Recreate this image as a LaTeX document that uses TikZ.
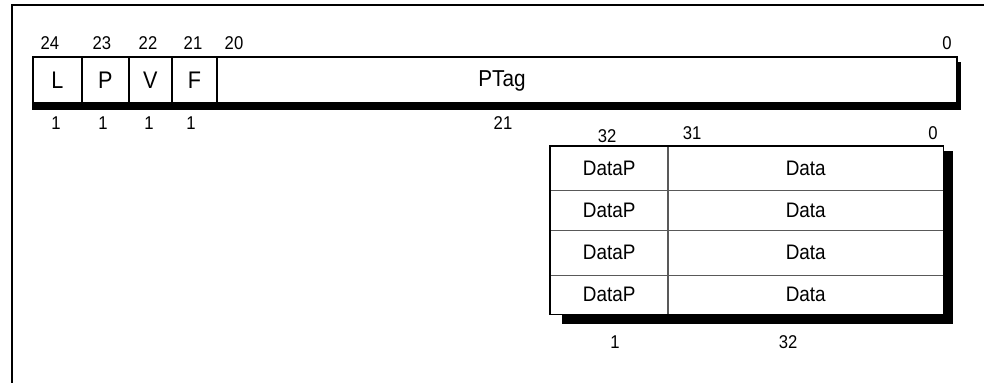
\documentclass[tikz,border=0pt]{standalone}
\usepackage{fontspec}
\setmainfont[FakeStretch=0.9]{Liberation Sans}
\usetikzlibrary{calc}
\begin{document}
\begin{tikzpicture}[x=1pt,y=-1pt,
  fld/.style={draw, line width=1.8pt, inner sep=0pt, minimum height=46pt, anchor=north west, font=\fontsize{24}{24}\selectfont},
  cell/.style={inner sep=0pt, anchor=north west, font=\fontsize{21}{21}\selectfont},
  txt/.style={inner sep=0pt, font=\fontsize{23}{23}\selectfont},
  num/.style={inner sep=0pt, font=\fontsize{18.5}{18.5}\selectfont},
  shadow/.style={fill=black, draw=none},
  grid/.style={draw=black!65, line width=1.3pt}]
\useasboundingbox (0,0) rectangle (984,383);
% frame
\coordinate (fr1) at (984,5);
\coordinate (fr2) at (12,5);
\coordinate (fr3) at (12,383);
\draw[line width=1.8pt] (fr1) -- (fr2) -- (fr3);
% register fields
\fill[shadow] (32,102) rectangle (961,110);
\fill[shadow] (950,62) rectangle (961,110);
\node[fld, minimum width=49pt] (L) at (32,56) {L};
\node[fld, minimum width=47pt] (P) at (81,56) {P};
\node[fld, minimum width=43pt] (V) at (128,56) {V};
\node[fld, minimum width=45pt] (F) at (171,56) {F};
\node[fld, fill=white, minimum width=740pt] (PTag) at (216,56) {};
\node[txt] (ptagtxt) at (502,81) {PTag};
% bit numbers
\node[num] (b24) at (50,43) {24};
\node[num] (b23) at (102,43) {23};
\node[num] (b22) at (148,43) {22};
\node[num] (b21) at (193,43) {21};
\node[num] (b20) at (234,43) {20};
\node[num] (b0) at (947,43) {0};
\node[num] (w1) at (56,123) {1};
\node[num] (w2) at (103,123) {1};
\node[num] (w3) at (149,123) {1};
\node[num] (w4) at (191,123) {1};
\node[num] (w5) at (503,123) {21};
% data table
\fill[shadow] (562,300) rectangle (953,324);
\fill[shadow] (930,151) rectangle (953,324);
\node[cell, fill=white, minimum width=118pt, minimum height=44pt] (dp1) at (550,146) {DataP};
\node[cell, fill=white, minimum width=275pt, minimum height=44pt] (d1) at (668,146) {Data};
\node[cell, fill=white, minimum width=118pt, minimum height=40pt] (dp2) at (550,190) {DataP};
\node[cell, fill=white, minimum width=275pt, minimum height=40pt] (d2) at (668,190) {Data};
\node[cell, fill=white, minimum width=118pt, minimum height=45pt] (dp3) at (550,230) {DataP};
\node[cell, fill=white, minimum width=275pt, minimum height=45pt] (d3) at (668,230) {Data};
\node[cell, fill=white, minimum width=118pt, minimum height=39pt] (dp4) at (550,275) {DataP};
\node[cell, fill=white, minimum width=275pt, minimum height=39pt] (d4) at (668,275) {Data};
\draw[grid] (dp1.south west) -- (d1.south east);
\draw[grid] (dp2.south west) -- (d2.south east);
\draw[grid] (dp3.south west) -- (d3.south east);
\draw[grid] (d1.north west) -- (d4.south west);
\draw[line width=1.8pt] (dp1.north west) rectangle (d4.south east);
% table numbers
\node[num] (t32) at (607,136) {32};
\node[num] (t31) at (692,133) {31};
\node[num] (t0) at (933,133) {0};
\node[num] (tw1) at (615,342) {1};
\node[num] (tw2) at (788,342) {32};
\end{tikzpicture}
\end{document}
